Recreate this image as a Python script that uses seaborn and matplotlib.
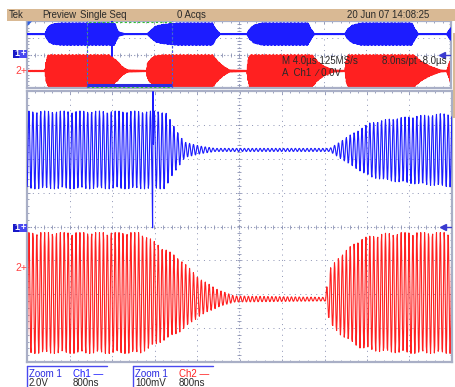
import numpy as np
import pandas as pd
import matplotlib
matplotlib.use("Agg")
import matplotlib.pyplot as plt
import seaborn as sns
from matplotlib.patches import Rectangle, Polygon
from matplotlib.ticker import MultipleLocator
from matplotlib.transforms import blended_transform_factory

# ---------------- data ----------------
# Channel envelopes: keypoints over the 40 us record (time in us, relative amplitude)
ch1_env_t = [0.0, 1.70, 1.85, 2.10, 2.50, 3.20, 8.26, 8.45, 8.63, 8.92, 9.20,
             11.36, 11.74, 12.12, 12.49, 12.93, 13.62, 14.20, 17.50, 17.80, 18.20,
             20.75, 21.00, 21.40, 22.20, 26.50, 26.80, 27.10,
             30.00, 30.25, 30.70, 31.50, 36.30, 36.60, 36.90, 39.60, 40.0]
ch1_env_a = [0.04, 0.04, 0.40, 0.75, 0.92, 1.00, 1.00, 0.55, 0.20, 0.10, 0.04,
             0.04, 0.38, 0.70, 0.80, 0.87, 0.95, 1.00, 1.00, 0.45, 0.04,
             0.04, 0.45, 0.80, 1.00, 1.00, 0.45, 0.04,
             0.04, 0.45, 0.80, 1.00, 1.00, 0.45, 0.04, 0.04, 0.60]
ch2_env_t = [0.0, 1.70, 1.80, 2.00, 7.79, 8.16, 8.54, 8.92, 9.29, 9.57,
             11.27, 11.36, 11.55, 11.93, 12.30, 12.87, 17.50, 18.00, 18.50, 19.10,
             20.75, 20.85, 21.00, 26.90, 27.40, 28.00, 28.90,
             30.00, 30.10, 30.30, 36.50, 37.20, 38.00, 39.00, 39.60, 40.0]
ch2_env_a = [0.03, 0.03, 0.60, 1.00, 1.00, 0.80, 0.60, 0.30, 0.13, 0.05,
             0.03, 0.45, 0.65, 0.90, 0.97, 1.00, 1.00, 0.60, 0.30, 0.05,
             0.03, 0.60, 1.00, 1.00, 0.60, 0.30, 0.05,
             0.03, 0.60, 1.00, 1.00, 0.60, 0.30, 0.05, 0.03, 0.80]
carrier_mhz = 13.56
sample_ns = 8.0
record_us = 40.0
zoom_start_us = 5.66
zoom_len_us = 8.0
trigger_t_us = [8.024, 8.032]
trigger_rel = [-2.0, 1.5]

header_labels = ["Tek", "Preview", "Single Seq", "0 Acqs", "20 Jun 07 14:08:25"]
header_x_px = [9, 42, 80, 177, 347]
overlay_line1 = ["M 4.0\u00b5s 125MS/s", "8.0ns/pt -8.0\u00b5s"]
overlay_line2 = "A  Ch1  \u2215 0.0V"
box1_labels = ["Zoom 1", "Ch1 \u2014", "2.0V", "800ns"]
box2_labels = ["Zoom 1", "Ch2 \u2014", "100mV", "800ns"]

BLUE = "#1c1cff"
RED = "#ff2020"
GRID = "#8c93b4"
FRAME = "#a9afc6"
TAN = "#d9b994"
W, H = 456, 387

# ---------------- build traces ----------------
t = np.arange(0, record_us, sample_ns / 1000.0)
carrier = np.sin(2 * np.pi * carrier_mhz * t)
s1 = np.interp(t, ch1_env_t, ch1_env_a) * carrier
for tg, v in zip(trigger_t_us, trigger_rel):
    s1[np.argmin(np.abs(t - tg))] = v
s2 = np.interp(t, ch2_env_t, ch2_env_a) * carrier

top = pd.DataFrame({"t": t,
                    "ch1": 1.22 + 0.66 * s1,
                    "ch2": np.clip(-0.985 + 0.96 * s2, -2.0, -0.02)})
m = (t >= zoom_start_us) & (t <= zoom_start_us + zoom_len_us)
bot = pd.DataFrame({"t": t[m] - zoom_start_us,
                    "ch1": 2.26 + 1.15 * s1[m],
                    "ch2": np.minimum(-2.15 + np.where(s2[m] > 0, 2.0, 1.6) * s2[m], -0.18)})

# ---------------- figure ----------------
sns.set_style("white")
plt.rcParams["font.family"] = ["Liberation Sans", "DejaVu Sans"]
fig = plt.figure(figsize=(W / 100, H / 100), dpi=100)
fig.patch.set_facecolor("white")


def fx(x):
    return x / W


def fy(y):
    return 1 - y / H


def ftext(x, y, s, **kw):
    kw.setdefault("fontsize", 7)
    kw.setdefault("color", "#2a2a2a")
    fig.text(fx(x), fy(y), s, ha="left", va="center", **kw)


def frect(x0, y0, x1, y1, **kw):
    fig.patches.append(Rectangle((fx(x0), fy(y1)), fx(x1) - fx(x0), fy(y0) - fy(y1),
                                 transform=fig.transFigure, **kw))


# header bar
frect(7, 9, 456, 21, facecolor=TAN, edgecolor="none")
for lab, x in zip(header_labels, header_x_px):
    ftext(x, 15.5, lab, fontsize=6.9)
# right tan strip
frect(453, 33, 456, 118, facecolor=TAN, edgecolor="none")

ax_top = fig.add_axes([fx(27), fy(88), fx(451) - fx(27), fy(21) - fy(88)])
ax_bot = fig.add_axes([fx(27), fy(362), fx(452) - fx(27), fy(91) - fy(362)])


def style_axes(ax, xmax, xdiv, ymax):
    ax.set_xlim(0, xmax)
    ax.set_ylim(-ymax, ymax)
    ax.set_facecolor("white")
    for sp in ax.spines.values():
        sp.set_color(FRAME)
        sp.set_linewidth(1.6)
        sp.set_visible(True)
    ax.xaxis.set_major_locator(MultipleLocator(xdiv))
    ax.xaxis.set_minor_locator(MultipleLocator(xdiv / 5))
    ax.yaxis.set_major_locator(MultipleLocator(1))
    ax.yaxis.set_minor_locator(MultipleLocator(0.2))
    ax.tick_params(which="both", direction="in", color=GRID, width=0.6,
                   top=True, right=True, bottom=True, left=True,
                   labelbottom=False, labelleft=False)
    ax.tick_params(which="major", length=2.5)
    ax.tick_params(which="minor", length=1.5)
    for k in range(1, 10):
        if k == 5:
            continue
        ax.axvline(k * xdiv, color=GRID, lw=0.7, ls=(0, (1, 4.5)), zorder=0)
    for k in range(-int(ymax) + 1, int(ymax)):
        if k == 0:
            continue
        ax.axhline(k, color=GRID, lw=0.7, ls=(0, (1, 4.5)), zorder=0)
    # centre cross with graduation marks
    ax.axvline(5 * xdiv, color=GRID, lw=0.8, ls=(0, (1, 2)), zorder=0)
    ax.axhline(0, color=GRID, lw=0.8, ls=(0, (1, 2)), zorder=0)
    xs = np.arange(0, xmax + 1e-9, xdiv / 5)
    ax.plot(xs, np.zeros_like(xs), ls="none", marker="|", ms=3.5, mew=0.6, color=GRID, zorder=0)
    ys = np.arange(-ymax, ymax + 1e-9, 0.2)
    ax.plot(np.full_like(ys, 5 * xdiv), ys, ls="none", marker="_", ms=3.5, mew=0.6, color=GRID, zorder=0)


style_axes(ax_top, record_us, record_us / 10, 2)
style_axes(ax_bot, zoom_len_us, zoom_len_us / 10, 4)

# traces
sns.lineplot(data=top, x="t", y="ch1", ax=ax_top, color=BLUE, lw=1.0, estimator=None, sort=False, zorder=3)
sns.lineplot(data=top, x="t", y="ch2", ax=ax_top, color=RED, lw=1.0, estimator=None, sort=False, zorder=2)
sns.lineplot(data=bot, x="t", y="ch2", ax=ax_bot, color=RED, lw=0.8, estimator=None, sort=False, zorder=2)
sns.lineplot(data=bot, x="t", y="ch1", ax=ax_bot, color=BLUE, lw=0.8, estimator=None, sort=False, zorder=3)
for ax in (ax_top, ax_bot):
    ax.set_xlabel("")
    ax.set_ylabel("")

# zoom window marker on overview
ax_top.add_patch(Rectangle((zoom_start_us, -1.97), zoom_len_us, 3.94, fill=False,
                           edgecolor="#2fbf2f", lw=0.8, ls=(0, (2, 2)), zorder=4))
for xe in (zoom_start_us, zoom_start_us + zoom_len_us):
    ax_top.axvline(xe, color="#4a4aff", lw=0.8, ls=(0, (2, 2)), zorder=4)
ax_top.plot([zoom_start_us, zoom_start_us + zoom_len_us], [-1.83, -1.83], color="#2a2ae0", lw=2.2,
            solid_capstyle="butt", zorder=5)

# right-edge level arrows
for ax in (ax_top, ax_bot):
    tr = blended_transform_factory(ax.transAxes, ax.transData)
    ax.plot([0.978, 0.998], [0, 0], color="#3a3ad0", lw=1.0, transform=tr, zorder=6)
    ax.plot([0.978], [0], marker="<", ms=4, color="#3a3ad0", transform=tr, zorder=6)

# top-left small triangle
fig.patches.append(Polygon([(fx(27.5), fy(21.5)), (fx(32), fy(21.5)), (fx(27.5), fy(26))],
                           closed=True, transform=fig.transFigure, facecolor="#3060e0", edgecolor="none"))

# channel markers on the left
for yc in (53.5, 227.5):
    frect(13, yc - 4, 19.5, yc + 4, facecolor="#1818c8", edgecolor="none")
    frect(19.5, yc - 4, 27, yc + 4, facecolor="#4848f0", edgecolor="none")
    ftext(14.2, yc, "1", color="white", fontsize=6.5, fontweight="bold")
    ftext(20.3, yc, "+", color="white", fontsize=6.5, fontweight="bold")
for yc in (71, 268):
    ftext(15, yc, "2+", color="#ff4040", fontsize=7.5)

# overlay readouts on the overview
ftext(282, 61.5, overlay_line1[0])
ftext(382, 61.5, overlay_line1[1])
ftext(282, 73, overlay_line2, family=["Liberation Sans", "DejaVu Sans"])

# bottom readout boxes
for x0, labs, chcol in ((27, box1_labels, BLUE), (133, box2_labels, RED)):
    fig.add_artist(plt.Line2D([fx(x0), fx(x0 + 80)], [fy(366), fy(366)], color="#4848f0", lw=1.0,
                              transform=fig.transFigure))
    fig.add_artist(plt.Line2D([fx(x0), fx(x0)], [fy(366), fy(387)], color="#4848f0", lw=1.0,
                              transform=fig.transFigure))
    ftext(x0 + 2, 374, labs[0], color="#2a2ae0")
    ftext(x0 + 46, 374, labs[1], color=chcol)
    ftext(x0 + 2, 383.5, labs[2])
    ftext(x0 + 46, 383.5, labs[3])

fig.savefig("out.png", dpi=100, facecolor="white")
